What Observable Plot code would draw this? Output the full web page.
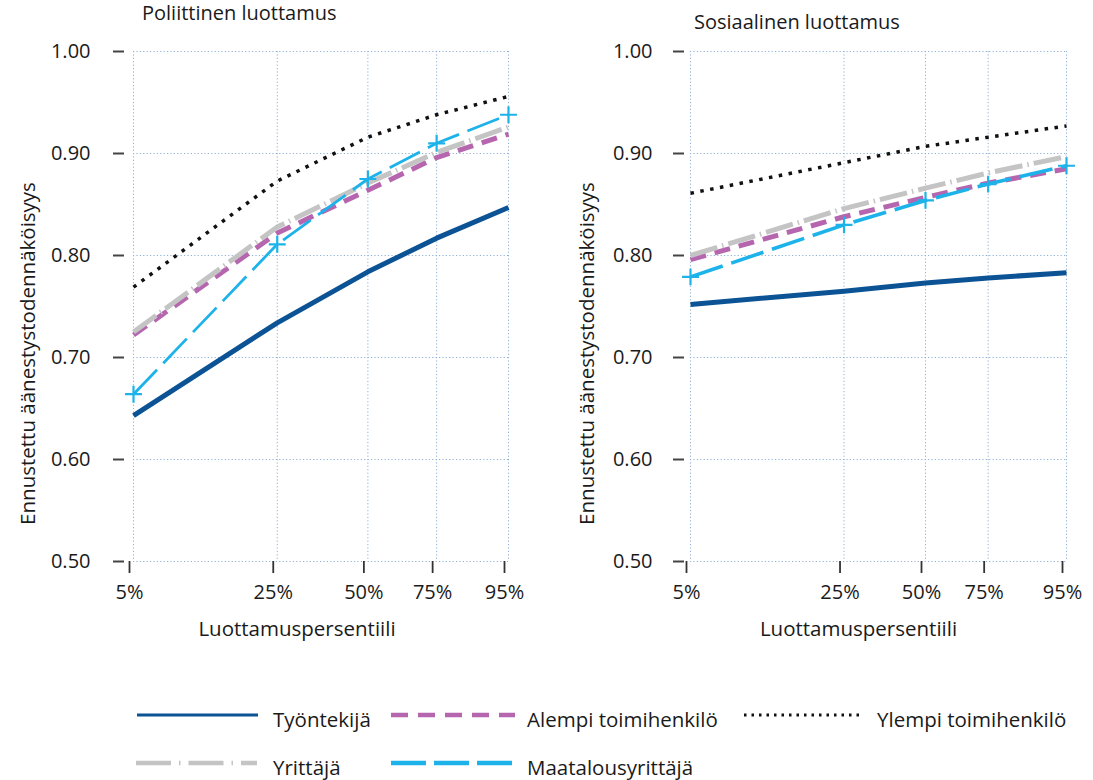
<!DOCTYPE html>
<html>
<head>
<meta charset="utf-8">
<script src="https://cdn.jsdelivr.net/npm/d3@7"></script>
<script src="https://cdn.jsdelivr.net/npm/@observablehq/plot@0.6"></script>
<style>
  html, body { margin: 0; padding: 0; background: #fff; }
  #wrap { position: relative; width: 1093px; height: 780px; font-family: "Open Sans", sans-serif; color: #1a1a1a; overflow: hidden; }
  .title { position: absolute; font-size: 20px; white-space: nowrap; line-height: 1; }
  .panel { position: absolute; top: 0; }
  .leg { position: absolute; font-size: 20.5px; white-space: nowrap; line-height: 1; }
  svg.sw { position: absolute; overflow: visible; }
</style>
</head>
<body>
<div id="wrap">
  <div class="title" style="left:142px;top:3px">Poliittinen luottamus</div>
  <div class="title" style="left:694px;top:12px">Sosiaalinen luottamus</div>
  <div id="p1" class="panel" style="left:0px"></div>
  <div id="p2" class="panel" style="left:546px"></div>
  <div id="legend"></div>
</div>
<script>
// ---- data ----
const pctLabels = ["5%", "25%", "50%", "75%", "95%"];
const polTrust = [2.0, 4.3, 5.75, 6.85, 8.0];     // political trust score at the percentiles
const socTrust = [3.3, 5.75, 7.05, 8.05, 9.3];    // social trust score at the percentiles
const yTicks = [0.5, 0.6, 0.7, 0.8, 0.9, 1.0];
const groups = ["Työntekijä", "Alempi toimihenkilö", "Ylempi toimihenkilö", "Yrittäjä", "Maatalousyrittäjä"];

const polTyontekija = [0.643, 0.734, 0.784, 0.817, 0.847];
const polAlempi     = [0.722, 0.822, 0.864, 0.896, 0.919];
const polYlempi     = [0.769, 0.873, 0.916, 0.938, 0.956];
const polYrittaja   = [0.725, 0.828, 0.871, 0.901, 0.926];
const polMaatalous  = [0.664, 0.811, 0.875, 0.910, 0.938];

const socTyontekija = [0.752, 0.765, 0.773, 0.778, 0.783];
const socAlempi     = [0.796, 0.838, 0.857, 0.871, 0.885];
const socYlempi     = [0.861, 0.891, 0.907, 0.916, 0.927];
const socYrittaja   = [0.800, 0.846, 0.866, 0.881, 0.897];
const socMaatalous  = [0.779, 0.830, 0.854, 0.870, 0.888];

// ---- styles ----
const styles = {
  "Työntekijä":          {stroke: "#0b5394", strokeWidth: 5,   dash: null,          lw: 3,   ldash: null},
  "Alempi toimihenkilö": {stroke: "#b566ae", strokeWidth: 5,   dash: "16,9",        lw: 4.5, ldash: "17,10"},
  "Ylempi toimihenkilö": {stroke: "#111111", strokeWidth: 3.5, dash: "3.5,6.5",     lw: 3,   ldash: "2.5,5"},
  "Yrittäjä":            {stroke: "#c4c4c4", strokeWidth: 5,   dash: "28,5,1.5,5",  lw: 4.5, ldash: "35,8,1.5,8"},
  "Maatalousyrittäjä":   {stroke: "#1db3ea", strokeWidth: 2.8, dash: "34,9",        lw: 4.5, ldash: "35,8"}
};
const drawOrder = ["Työntekijä", "Alempi toimihenkilö", "Yrittäjä", "Maatalousyrittäjä", "Ylempi toimihenkilö"];

function rowsFor(xs, series) {
  const out = [];
  groups.forEach((g, gi) => series[gi].forEach((v, i) => out.push({group: g, x: xs[i], y: v, pct: pctLabels[i]})));
  return out;
}

const gridStyle = {stroke: "#8eb0d6", strokeOpacity: 1, strokeWidth: 1, strokeDasharray: "1.2,2.2"};

function panel(xs, series, opt) {
  const rows = rowsFor(xs, series);
  const labelMap = new Map(xs.map((x, i) => [x, pctLabels[i]]));
  const marks = [
    Plot.gridY(yTicks, gridStyle),
    Plot.gridX(xs, gridStyle),
    Plot.axisY(yTicks, {tickFormat: d3.format(".2f"), tickSize: 11, dx: opt.ydx, tickPadding: opt.ypad,
      stroke: "#444", strokeWidth: 2, label: null, fontSize: 20}),
    Plot.axisX(xs, {tickFormat: d => labelMap.get(d), tickSize: 12, tickPadding: 11, dx: -4,
      stroke: "#333", strokeWidth: 1.8, label: null, fontSize: 20}),
  ];
  for (const g of drawOrder) {
    const s = styles[g];
    const w = (g === "Maatalousyrittäjä") ? opt.blueWidth : s.strokeWidth;
    marks.push(Plot.line(rows.filter(r => r.group === g), {
      x: "x", y: "y", stroke: s.stroke, strokeWidth: w,
      strokeDasharray: s.dash, strokeLinecap: "butt", strokeLinejoin: "round"
    }));
    if (g === "Maatalousyrittäjä") {
      marks.push(Plot.dot(rows.filter(r => r.group === g), {
        x: "x", y: "y", symbol: "plus", r: 5.5, stroke: s.stroke, strokeWidth: 2.2
      }));
    }
  }
  marks.push(Plot.text(["Luottamuspersentiili"], {frameAnchor: "bottom", textAnchor: "middle", dy: 74, dx: opt.xldx, fontSize: 20.5, fill: "#1a1a1a"}));
  marks.push(Plot.text(["Ennustettu äänestystodennäköisyys"], {frameAnchor: "left", textAnchor: "middle", rotate: -90, dx: opt.yldx, dy: 47, fontSize: 20.5, fill: "#1a1a1a"}));
  return Plot.plot({
    width: opt.width, height: 660,
    marginLeft: opt.ml, marginRight: opt.mr, marginTop: 51, marginBottom: 99,
    x: {type: "linear", domain: [xs[0], xs[xs.length - 1]]},
    y: {domain: [0.5, 1.0]},
    style: {fontFamily: "'Open Sans', sans-serif", fontSize: "20px", color: "#1a1a1a", background: "transparent", overflow: "visible"},
    marks
  });
}

document.getElementById("p1").append(panel(polTrust,
  [polTyontekija, polAlempi, polYlempi, polYrittaja, polMaatalous],
  {width: 546, ml: 133, mr: 38, ydx: -9, ypad: 23, xldx: -24, yldx: -105, blueWidth: 2.8}));
document.getElementById("p2").append(panel(socTrust,
  [socTyontekija, socAlempi, socYlempi, socYrittaja, socMaatalous],
  {width: 547, ml: 144, mr: 27, ydx: -6, ypad: 21, xldx: -20, yldx: -103, blueWidth: 3.6}));

// ---- legend ----
const legendItems = [
  {g: "Työntekijä",          x1: 137, x2: 258, y: 715, tx: 273},
  {g: "Alempi toimihenkilö", x1: 391, x2: 515, y: 715, tx: 527},
  {g: "Ylempi toimihenkilö", x1: 744, x2: 862, y: 715, tx: 877},
  {g: "Yrittäjä",            x1: 136, x2: 257, y: 763, tx: 273},
  {g: "Maatalousyrittäjä",   x1: 391, x2: 515, y: 763, tx: 527}
];
const leg = document.getElementById("legend");
for (const it of legendItems) {
  const s = styles[it.g];
  const ns = "http://www.w3.org/2000/svg";
  const svg = document.createElementNS(ns, "svg");
  svg.setAttribute("class", "sw");
  svg.setAttribute("width", it.x2 - it.x1);
  svg.setAttribute("height", 10);
  svg.style.left = it.x1 + "px";
  svg.style.top = (it.y - 5) + "px";
  const line = document.createElementNS(ns, "line");
  line.setAttribute("x1", 0); line.setAttribute("x2", it.x2 - it.x1);
  line.setAttribute("y1", 5); line.setAttribute("y2", 5);
  line.setAttribute("stroke", s.stroke);
  line.setAttribute("stroke-width", s.lw);
  if (s.ldash) line.setAttribute("stroke-dasharray", s.ldash);
  svg.append(line);
  leg.append(svg);
  const t = document.createElement("div");
  t.className = "leg";
  t.textContent = it.g;
  t.style.left = it.tx + "px";
  t.style.top = (it.y - 6) + "px";
  leg.append(t);
}
</script>
</body>
</html>
